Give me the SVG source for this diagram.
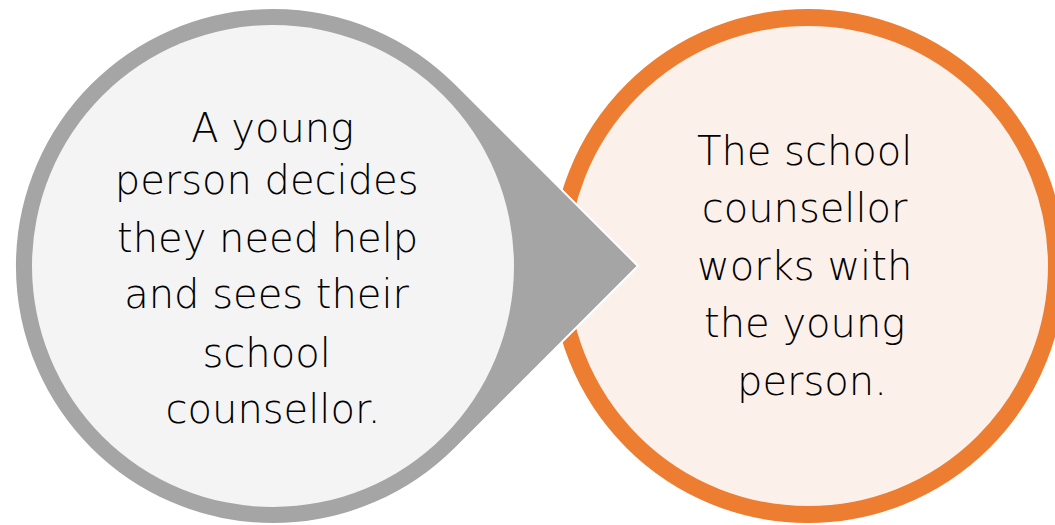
<svg xmlns="http://www.w3.org/2000/svg" width="1055" height="525" viewBox="0 0 1055 525">
  <style>
    .label { font-family: "DejaVu Sans", "Liberation Sans", sans-serif; font-weight: 200; font-size: 40px; fill: #000000; text-anchor: middle; }
  </style>
  <rect width="1055" height="525" fill="#ffffff"/>

  <!-- Step 2: orange circle -->
  <g id="step-counsellor">
    <circle cx="808" cy="266" r="248.5" fill="#fbf0ea" stroke="#ed7d31" stroke-width="17"/>
    <text class="label">
      <tspan x="811" y="165">The school</tspan>
      <tspan x="811" y="222">counsellor</tspan>
      <tspan x="811" y="280">works with</tspan>
      <tspan x="811" y="337">the young</tspan>
      <tspan x="812" y="395">person.</tspan>
    </text>
  </g>

  <!-- Step 1: grey teardrop pointing right -->
  <g id="step-young-person">
    <path d="M 455.4 83.6 L 637.9 266 L 455.4 448.4 A 258 258 0 1 1 455.4 83.6 Z" fill="#a5a5a5" stroke="#ffffff" stroke-width="2" stroke-linejoin="miter"/>
    <circle cx="273" cy="266" r="241" fill="#f4f4f4"/>
    <text class="label">
      <tspan x="279" y="142">A young</tspan>
      <tspan x="273" y="194">person decides</tspan>
      <tspan x="274" y="252">they need help</tspan>
      <tspan x="273" y="308">and sees their</tspan>
      <tspan x="273" y="367">school</tspan>
      <tspan x="273" y="423">counsellor.</tspan>
    </text>
  </g>

  <g id="connectors"></g>
</svg>
